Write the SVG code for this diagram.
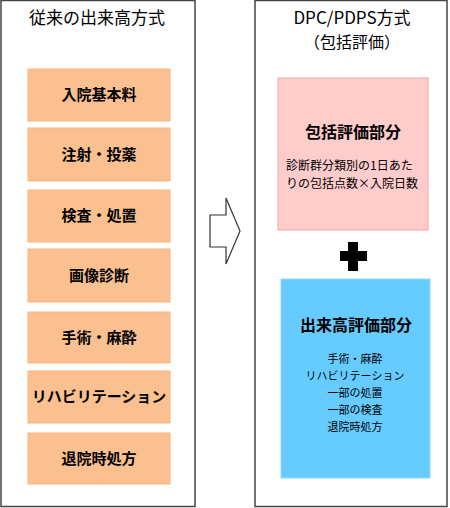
<svg xmlns="http://www.w3.org/2000/svg" width="450" height="508" viewBox="0 0 450 508">
<style>
text{font-family:"Noto Sans CJK JP","Noto Sans CJK SC",sans-serif;fill:#000;text-anchor:middle}
.panel{fill:#fff;stroke:#444;stroke-width:1.5}
.title{font-size:17px}
.ob rect{fill:#FAC090;stroke:#F9B57E;stroke-width:1}
.ob text{font-size:15px;font-weight:bold}
.hd{font-size:16px;font-weight:bold}
.sm{font-size:12px}
.li{font-size:11px}
</style>
<g id="left-panel">
<rect class="panel" x="1" y="0.5" width="194" height="506"/>
<text class="title" x="97" y="24">従来の出来高方式</text>
</g>
<g id="box1" class="ob"><rect x="28" y="69" width="142" height="52"/><text x="99" y="100">入院基本料</text></g>
<g id="box2" class="ob"><rect x="28" y="128" width="142" height="53"/><text x="99" y="160">注射・投薬</text></g>
<g id="box3" class="ob"><rect x="28" y="190" width="142" height="52"/><text x="99" y="221">検査・処置</text></g>
<g id="box4" class="ob"><rect x="28" y="249" width="142" height="53"/><text x="99" y="281">画像診断</text></g>
<g id="box5" class="ob"><rect x="28" y="312" width="142" height="51"/><text x="99" y="343">手術・麻酔</text></g>
<g id="box6" class="ob"><rect x="28" y="371" width="142" height="52"/><text x="99" y="402">リハビリテーション</text></g>
<g id="box7" class="ob"><rect x="28" y="433" width="142" height="51"/><text x="99" y="464">退院時処方</text></g>
<g id="right-panel">
<rect class="panel" x="255" y="0.5" width="192" height="506"/>
<text class="title" x="352" y="24">DPC/PDPS方式</text>
<text x="352" y="48" style="font-size:16px">（包括評価）</text>
</g>
<g id="connectors">
<polygon points="210,215 226,215 226,198 240,231 226,264 226,247 210,247" fill="#fff" stroke="#333" stroke-width="1.2"/>
</g>
<g id="pink">
<rect x="278" y="78" width="150" height="152" fill="#FFCCCC" stroke="#F2A6A6" stroke-width="1"/>
<text class="hd" x="353" y="138">包括評価部分</text>
<text class="sm" x="286" y="170" style="text-anchor:start">診断群分類別の1日あた</text>
<text class="sm" x="286" y="188" style="text-anchor:start">りの包括点数×入院日数</text>
</g>
<g id="plus">
<rect x="340" y="251" width="27" height="10" fill="#000"/>
<rect x="348" y="242" width="10" height="29" fill="#000"/>
</g>
<g id="blue">
<rect x="281" y="279" width="149" height="199" fill="#66CCFF" stroke="#8FD8FF" stroke-width="1"/>
<text class="hd" x="356" y="331">出来高評価部分</text>
<text class="li" x="355" y="363">手術・麻酔</text>
<text class="li" x="355" y="380">リハビリテーション</text>
<text class="li" x="355" y="397">一部の処置</text>
<text class="li" x="355" y="414">一部の検査</text>
<text class="li" x="355" y="431">退院時処方</text>
</g>
</svg>
